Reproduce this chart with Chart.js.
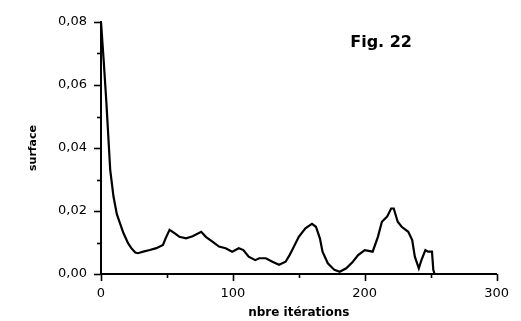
<!DOCTYPE html>
<html>
<head>
<meta charset="utf-8">
<script src="https://cdn.jsdelivr.net/npm/chart.js@4"></script>
<style>
  html, body { margin: 0; padding: 0; background: #fff; }
  #wrap { width: 521px; height: 321px; }
</style>
</head>
<body>
<div id="wrap"><canvas id="fig22"></canvas></div>
<script>
// values
const iterations = [0, 2, 4, 5.5, 7, 9.5, 12, 14.5, 17, 20.5, 23, 26, 28, 32, 37, 42, 47, 49, 52, 56,
  59.5, 64.5, 69.5, 76, 79.5, 84.5, 89.5, 94.5, 99.5, 104.5, 108, 112, 117, 120, 125, 130, 135, 140,
  143, 145, 150, 155, 160, 163, 166, 168, 172, 177, 181, 186, 191, 195, 200, 206, 210, 213, 217, 220,
  222, 225, 228, 233, 236, 238, 241, 243, 246, 248, 251, 252, 253];
const surface = [0.080, 0.068, 0.055, 0.044, 0.033, 0.0245, 0.019, 0.016, 0.013, 0.0098, 0.0082, 0.0068,
  0.0066, 0.0071, 0.0076, 0.0082, 0.0092, 0.0113, 0.014, 0.0129, 0.0118, 0.0113, 0.012, 0.0134, 0.0118,
  0.0103, 0.0087, 0.0082, 0.0071, 0.0082, 0.0076, 0.0055, 0.0044, 0.005, 0.005, 0.0039, 0.0029, 0.0039,
  0.006, 0.0076, 0.0118, 0.0145, 0.0159, 0.015, 0.0113, 0.0071, 0.0034, 0.0013, 0.0007, 0.0018, 0.0039,
  0.006, 0.0076, 0.0071, 0.0118, 0.0166, 0.0182, 0.0208, 0.0208, 0.0166, 0.015, 0.0134, 0.0108, 0.0055,
  0.0018, 0.0044, 0.0076, 0.0071, 0.0071, 0.0013, 0.0];
const xTicks = [0, 50, 100, 150, 200, 250, 300];
const yTicks = [0, 0.01, 0.02, 0.03, 0.04, 0.05, 0.06, 0.07, 0.08];
const figLabel = 'Fig. 22';

const points = iterations.map((x, i) => ({ x: x, y: surface[i] }));

// outward tick marks, long on labelled values, short in between
const tickMarks = {
  id: 'tickMarks',
  afterDraw(chart) {
    const ctx = chart.ctx;
    const xs = chart.scales.x, ys = chart.scales.y;
    const area = chart.chartArea;
    ctx.save();
    ctx.strokeStyle = '#000';
    ctx.lineWidth = 1.6;
    yTicks.forEach(v => {
      const py = Math.round(ys.getPixelForValue(v)) + 0.5;
      const len = Math.round(v * 100) % 2 === 0 ? 7 : 4;
      ctx.beginPath();
      ctx.moveTo(area.left - len, py);
      ctx.lineTo(area.left, py);
      ctx.stroke();
    });
    xTicks.forEach(v => {
      const px = Math.round(xs.getPixelForValue(v)) + 0.5;
      const len = v % 100 === 0 ? 7 : 4;
      ctx.beginPath();
      ctx.moveTo(px, area.bottom);
      ctx.lineTo(px, area.bottom + len);
      ctx.stroke();
    });
    // figure number
    ctx.fillStyle = '#000';
    ctx.font = 'bold 16px "DejaVu Sans"';
    ctx.textBaseline = 'alphabetic';
    ctx.fillText(figLabel, xs.getPixelForValue(189), 47);
    ctx.restore();
  }
};

new Chart(document.getElementById('fig22'), {
  type: 'scatter',
  data: {
    datasets: [{
      data: points,
      showLine: true,
      borderColor: '#000',
      borderWidth: 2.2,
      pointRadius: 0,
      tension: 0,
      fill: false
    }]
  },
  options: {
    responsive: true,
    maintainAspectRatio: false,
    animation: false,
    layout: { padding: { top: 22, right: 20, left: 0, bottom: 0 } },
    plugins: {
      legend: { display: false },
      tooltip: { enabled: false }
    },
    scales: {
      x: {
        type: 'linear',
        min: 0,
        max: 300,
        afterFit: s => { s.height = 47; },
        afterBuildTicks: s => { s.ticks = xTicks.map(v => ({ value: v })); },
        grid: { display: false, drawTicks: false },
        border: { display: true, color: '#000', width: 2 },
        ticks: {
          padding: 12,
          color: '#000',
          font: { family: 'DejaVu Sans', size: 13 },
          callback: v => (v % 100 === 0 ? String(v) : '')
        },
        title: {
          display: true,
          text: 'nbre itérations',
          color: '#000',
          font: { family: 'DejaVu Sans', size: 12, weight: 'bold' },
          padding: { top: 0, bottom: 1 }
        }
      },
      y: {
        min: 0,
        max: 0.08,
        afterFit: s => { s.width = 101; },
        afterBuildTicks: s => { s.ticks = yTicks.map(v => ({ value: v })); },
        grid: { display: false, drawTicks: false },
        border: { display: true, color: '#000', width: 2 },
        ticks: {
          padding: 14,
          color: '#000',
          font: { family: 'DejaVu Sans', size: 13 },
          callback: v => (Math.round(v * 100) % 2 === 0 ? v.toFixed(2).replace('.', ',') : '')
        },
        title: {
          display: true,
          text: 'surface',
          color: '#000',
          font: { family: 'DejaVu Sans', size: 11, weight: 'bold' },
          padding: { top: 27, bottom: 0 }
        }
      }
    }
  },
  plugins: [tickMarks]
});
</script>
</body>
</html>
